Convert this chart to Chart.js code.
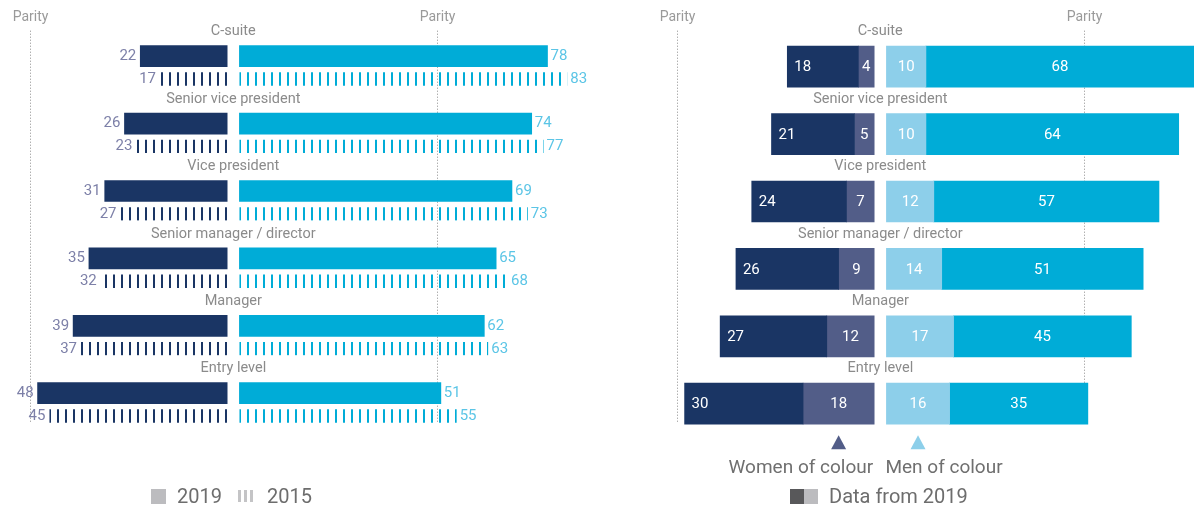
<!DOCTYPE html>
<html lang="en">
<head>
<meta charset="UTF-8">
<title>Women and men in the corporate pipeline</title>
<script src="https://cdn.jsdelivr.net/npm/chart.js"></script>
<style>
  body { margin: 0; background: #fff; font-family: Roboto, sans-serif; }
  .wrap { position: relative; width: 1194px; height: 511px; overflow: hidden; }
  .panel { position: absolute; top: 0; height: 511px; }
  #leftBox { left: 0; width: 620px; }
  #rightBox { left: 640px; width: 554px; }
  .legend { position: absolute; top: 484px; height: 24px; display: flex; align-items: center;
            font-size: 20px; color: #6d6d6d; line-height: 24px; }
  .sq { width: 15px; height: 15px; background: #bcbcbf; }
  .dark { background: #58585a; width: 14px; }
  .light { width: 14px; }
  .ticks { display: flex; gap: 3px; height: 12px; }
  .ticks span { width: 3px; height: 12px; background: #c4c4c6; }
</style>
</head>
<body>
<div class="wrap">
  <div class="panel" id="leftBox"><canvas id="genderChart"></canvas></div>
  <div class="panel" id="rightBox"><canvas id="raceChart"></canvas></div>

  <div class="legend" style="left:151px">
    <div class="sq" style="margin-right:11px"></div>2019
    <div class="ticks" style="margin:0 14px 0 16px"><span></span><span></span><span></span></div>2015
  </div>
  <div class="legend" style="left:790px">
    <div class="sq dark"></div><div class="sq light" style="margin-right:11px"></div>Data from 2019
  </div>
</div>

<script>
  // Data (% of employees at each level)
  const levels = ['C-suite', 'Senior vice president', 'Vice president',
                  'Senior manager / director', 'Manager', 'Entry level'];
  const women2019 = [22, 26, 31, 35, 39, 48];
  const men2019   = [78, 74, 69, 65, 62, 51];
  const women2015 = [17, 23, 27, 32, 37, 45];
  const men2015   = [83, 77, 73, 68, 63, 55];

  const whiteWomen    = [18, 21, 24, 26, 27, 30];
  const womenOfColour = [4, 5, 7, 9, 12, 18];
  const menOfColour   = [10, 10, 12, 14, 17, 16];
  const whiteMen      = [68, 64, 57, 51, 45, 35];

  const parity = 50;
  const gap = 1.55; // half the white gap between women and men sides, in % units

  const NAVY = '#1a3564', SLATE = '#525d88', LIGHTBLUE = '#8dcfea', CYAN = '#00acd7';
  const FONT = 'Roboto, sans-serif';

  // vertical stripe patterns for the 2015 bars
  function stripes(color, atEnd) {
    const c = document.createElement('canvas');
    c.width = 8; c.height = 8;
    const g = c.getContext('2d');
    g.fillStyle = color;
    g.fillRect(atEnd ? 6 : 0, 0, 2, 8);
    return g.createPattern(c, 'repeat');
  }
  const womenStripes = stripes(NAVY, true);
  const menStripes = stripes(CYAN, false);

  function baseOptions(xMin, xMax) {
    return {
      indexAxis: 'y',
      responsive: true,
      maintainAspectRatio: false,
      animation: false,
      layout: { padding: { top: 33, bottom: 73.6, left: 0, right: 0 } },
      plugins: { legend: { display: false }, tooltip: { enabled: false } },
      scales: {
        x: { type: 'linear', min: xMin, max: xMax, stacked: false, display: false },
        y: { type: 'category', display: false }
      }
    };
  }

  // dotted parity lines + "Parity" labels
  const parityLines = {
    id: 'parityLines',
    beforeDatasetsDraw(chart) {
      const { ctx, scales: { x, y } } = chart;
      const top = y.getPixelForValue(0) - 36;
      const bottom = y.getPixelForValue(levels.length - 1) + 20;
      ctx.save();
      ctx.strokeStyle = '#8c8c8c';
      ctx.lineWidth = 1;
      ctx.setLineDash([1, 2]);
      ctx.fillStyle = '#9a9a9a';
      ctx.font = '14px ' + FONT;
      ctx.textAlign = 'center';
      ctx.textBaseline = 'middle';
      for (const v of [-(parity + gap), parity + gap]) {
        const px = Math.round(x.getPixelForValue(v)) + 0.5;
        ctx.beginPath();
        ctx.moveTo(px, top);
        ctx.lineTo(px, bottom);
        ctx.stroke();
        ctx.fillText('Parity', px, top - 13);
      }
      ctx.restore();
    }
  };

  // level names centred over the gap
  const levelNames = {
    id: 'levelNames',
    afterDatasetsDraw(chart) {
      const { ctx, scales: { x, y } } = chart;
      ctx.save();
      ctx.fillStyle = '#8b8b8b';
      ctx.font = '14.5px ' + FONT;
      ctx.textAlign = 'center';
      ctx.textBaseline = 'middle';
      levels.forEach((name, i) => ctx.fillText(name, x.getPixelForValue(0), y.getPixelForValue(i) - 35));
      ctx.restore();
    }
  };

  // ---------- left: women vs men, 2019 and 2015 ----------
  const genderLabels = {
    id: 'genderLabels',
    beforeDatasetsDraw(chart) {
      const x = chart.scales.x;
      womenStripes.setTransform(new DOMMatrix().translateSelf(Math.round(x.getPixelForValue(-gap)), 0));
      menStripes.setTransform(new DOMMatrix().translateSelf(Math.round(x.getPixelForValue(gap)), 0));
    },
    afterDatasetsDraw(chart) {
      const { ctx, scales: { x } } = chart;
      ctx.save();
      ctx.font = '15px ' + FONT;
      ctx.textBaseline = 'middle';
      const rows = [
        [0, women2019, -1, 0], [1, men2019, 1, 0],
        [2, women2015, -1, 3], [3, men2015, 1, 3]
      ];
      for (const [ds, values, side, dy] of rows) {
        const meta = chart.getDatasetMeta(ds);
        values.forEach((v, i) => {
          const yy = meta.data[i].y + dy;
          if (side < 0) {
            ctx.fillStyle = '#7d80a8';
            ctx.textAlign = 'right';
            ctx.fillText(v, x.getPixelForValue(-gap - v) - 4, yy);
          } else {
            ctx.fillStyle = '#5bc5e6';
            ctx.textAlign = 'left';
            ctx.fillText(v, x.getPixelForValue(gap + v) + 3, yy);
          }
        });
      }
      ctx.restore();
    }
  };

  const hidden = { top: 6, right: 0, bottom: 0, left: 0 };
  new Chart(document.getElementById('genderChart'), {
    type: 'bar',
    data: {
      labels: levels,
      datasets: [
        { label: 'Women 2019', stack: '2019', barThickness: 21, backgroundColor: NAVY,
          data: women2019.map(v => [-gap - v, -gap]) },
        { label: 'Men 2019', stack: '2019', barThickness: 21, backgroundColor: CYAN,
          data: men2019.map(v => [gap, gap + v]) },
        { label: 'Women 2015', stack: '2015', barThickness: 19, backgroundColor: womenStripes,
          borderWidth: hidden, borderColor: 'rgba(0,0,0,0)', borderSkipped: false,
          data: women2015.map(v => [-gap - v, -gap]) },
        { label: 'Men 2015', stack: '2015', barThickness: 19, backgroundColor: menStripes,
          borderWidth: hidden, borderColor: 'rgba(0,0,0,0)', borderSkipped: false,
          data: men2015.map(v => [gap, gap + v]) }
      ]
    },
    options: baseOptions(-59.06, 97.9),
    plugins: [parityLines, levelNames, genderLabels]
  });

  // ---------- right: split by race, 2019 ----------
  const raceSeries = [
    { label: 'White women', values: whiteWomen, color: NAVY,
      range: i => [-gap - womenOfColour[i] - whiteWomen[i], -gap - womenOfColour[i]] },
    { label: 'Women of colour', values: womenOfColour, color: SLATE,
      range: i => [-gap - womenOfColour[i], -gap] },
    { label: 'Men of colour', values: menOfColour, color: LIGHTBLUE,
      range: i => [gap, gap + menOfColour[i]] },
    { label: 'White men', values: whiteMen, color: CYAN,
      range: i => [gap + menOfColour[i], gap + menOfColour[i] + whiteMen[i]] }
  ];

  const raceLabels = {
    id: 'raceLabels',
    afterDatasetsDraw(chart) {
      const { ctx, chartArea, scales: { x, y } } = chart;
      ctx.save();
      ctx.font = '15px ' + FONT;
      ctx.textBaseline = 'middle';
      ctx.fillStyle = '#fff';
      raceSeries.forEach((s, ds) => {
        s.values.forEach((v, i) => {
          const [a, b] = s.range(i);
          const left = Math.max(x.getPixelForValue(a), chartArea.left);
          const right = Math.min(x.getPixelForValue(b), chartArea.right);
          const yy = y.getPixelForValue(i) + 1;
          if (ds === 0) {
            ctx.textAlign = 'left';
            ctx.fillText(v, left + 7, yy);
          } else {
            ctx.textAlign = 'center';
            ctx.fillText(v, (left + right) / 2, yy);
          }
        });
      });

      // pointers to the "of colour" segments under the last row
      const last = levels.length - 1;
      const yb = y.getPixelForValue(last);
      const pointers = [
        [raceSeries[1], SLATE, 'Women of colour', 'right', x.getPixelForValue(-gap)],
        [raceSeries[2], LIGHTBLUE, 'Men of colour', 'left', x.getPixelForValue(gap)]
      ];
      for (const [s, color, text, align, tx] of pointers) {
        const [a, b] = s.range(last);
        const cx = (x.getPixelForValue(a) + x.getPixelForValue(b)) / 2;
        ctx.fillStyle = color;
        ctx.beginPath();
        ctx.moveTo(cx, yb + 31.5);
        ctx.lineTo(cx + 7.5, yb + 45.5);
        ctx.lineTo(cx - 7.5, yb + 45.5);
        ctx.closePath();
        ctx.fill();
        ctx.fillStyle = '#6f6f6f';
        ctx.font = '19px ' + FONT;
        ctx.textAlign = align;
        ctx.fillText(text, tx - 1, yb + 65);
      }
      ctx.restore();
    }
  };

  new Chart(document.getElementById('raceChart'), {
    type: 'bar',
    data: {
      labels: levels,
      datasets: raceSeries.map(s => ({
        label: s.label,
        grouped: false,
        barThickness: 41,
        backgroundColor: s.color,
        data: s.values.map((v, i) => s.range(i))
      }))
    },
    options: baseOptions(-60.84, 79.42),
    plugins: [parityLines, levelNames, raceLabels]
  });
</script>
</body>
</html>
